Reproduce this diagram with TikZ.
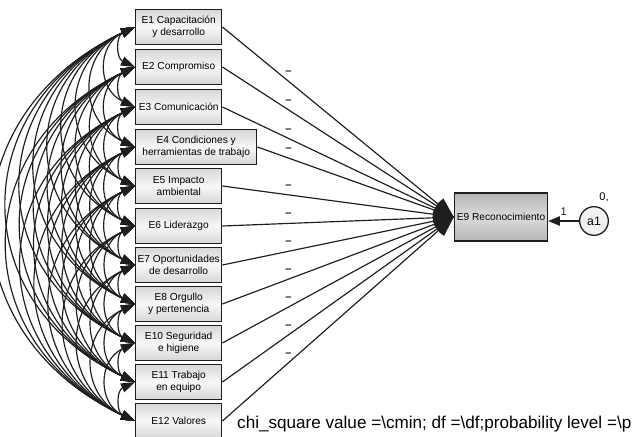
\documentclass[tikz,border=0pt]{standalone}
\usepackage{fontspec}
\setmainfont{Liberation Sans}
\usetikzlibrary{arrows.meta,positioning,calc}
\definecolor{edge}{RGB}{30,30,30}

\begin{document}
\begin{tikzpicture}[x=0.03cm,y=0.03cm,
    obs/.style={draw=edge,line width=1.2pt,anchor=west,minimum height=1.05cm,
      align=center,inner xsep=0pt,font=\fontsize{8.7}{10.2}\selectfont,
      top color=gray!32,bottom color=gray!32,middle color=gray!6},
    cov/.style={<->,>={Triangle[length=12pt,width=8pt]},line width=1pt,edge},
    reg/.style={->,>={Triangle[length=17pt,width=13pt]},line width=1pt,edge},
    dashlbl/.style={above=5pt,inner sep=0pt,font=\fontsize{9.5}{10}\bfseries}]
    \useasboundingbox (0,0) rectangle (635,436);
    % observed variables
    \foreach \y/\lab/\w [count=\i] in {
      409/{E1 Capacitación\\y desarrollo}/2.58cm,
      369/{E2 Compromiso}/2.58cm,
      329/{E3 Comunicación}/2.58cm,
      289/{E4 Condiciones y\\herramientas de trabajo}/3.63cm,
      250/{E5 Impacto\\ambiental}/2.58cm,
      210/{E6 Liderazgo}/2.58cm,
      171/{E7 Oportunidades\\de desarrollo}/2.58cm,
      132/{E8 Orgullo\\y pertenencia}/2.58cm,
      93/{E10 Seguridad\\e higiene}/2.58cm,
      54/{E11 Trabajo\\en equipo}/2.58cm,
      15/{E12 Valores}/2.58cm}{
      \node[obs,minimum width=\w] (x\i) at (135,\y) {\lab};
    }
    \node[draw=edge,line width=1.2pt,minimum width=2.79cm,minimum height=1.44cm,
      font=\fontsize{8.7}{10.2}\selectfont,inner sep=0pt,
      top color=gray!58,bottom color=gray!58,middle color=gray!28] (e9) at (501,219) {E9 Reconocimiento};
    \node[draw=edge,line width=1.1pt,circle,minimum size=0.86cm,inner sep=0pt,fill=gray!12,
      font=\fontsize{10.5}{11}\selectfont] (a1) at (594,215) {a1};
    \draw[->,>={Triangle[length=10pt,width=8pt]},line width=1pt,edge] (a1.west) -- node[above=1pt,font=\fontsize{9.5}{10}\selectfont] (w1) {1} (e9.east |- a1);
    \node[font=\fontsize{9.5}{10}\selectfont] (v1) at (604,239) {0,};
    % covariances
    \foreach \i in {1,...,10}{
      \pgfmathtruncatemacro\nxt{\i+1}
      \foreach \j in {\nxt,...,11}
        \draw[cov] (x\i.west) to[out=205,in=155,looseness=1.35] (x\j.west);
    }
    % paths into E9
    \foreach \i/\p in {1/.286,2/.286,3/.286,4/.16,5/.286,6/.286,7/.286,8/.286,9/.286,10/.286,11/.286}
      \draw[reg] (x\i.east) -- node[dashlbl,pos=\p] (d\i) {--} (e9.west);
    \node[anchor=base west,font=\fontsize{14.6}{16}\selectfont,inner sep=0pt] (fit) at (237,8)
      {chi\_square value =\textbackslash cmin; df =\textbackslash df;probability level =\textbackslash p};
  \end{tikzpicture}
\end{document}
